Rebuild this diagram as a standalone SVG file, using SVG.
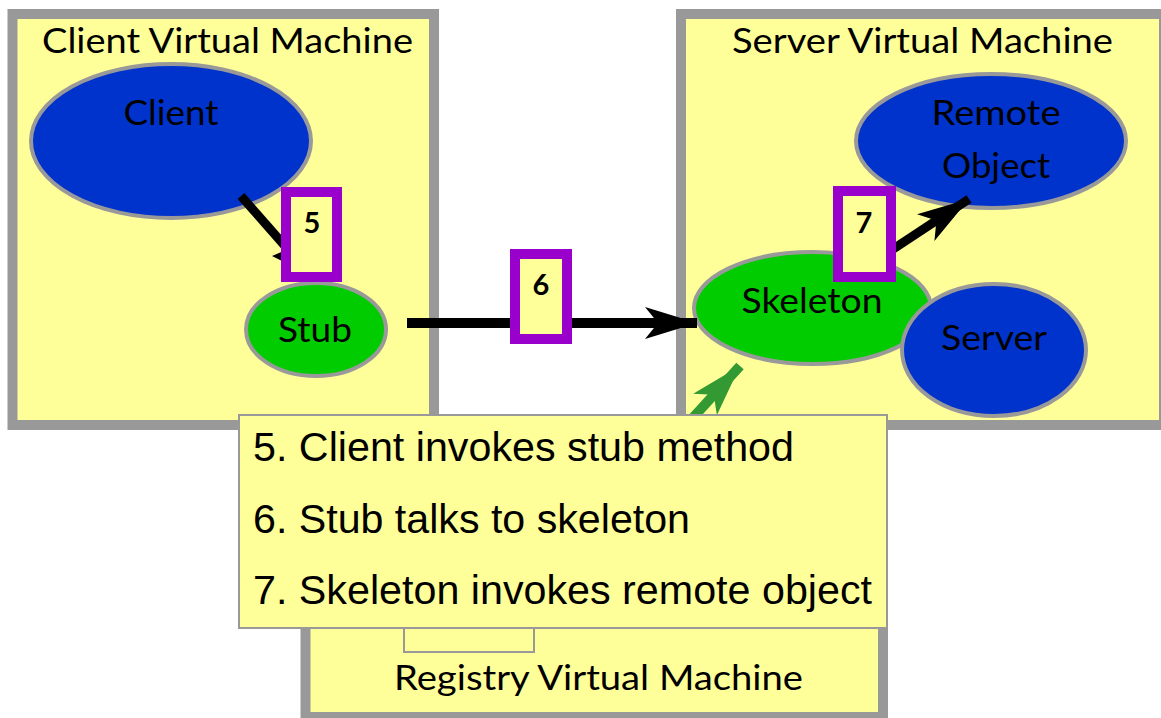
<svg xmlns="http://www.w3.org/2000/svg" width="1161" height="718" viewBox="0 0 1161 718">
<style>
.vm{fill:#FFFF99;stroke:#999999;stroke-width:10}
.title{font-family:Lato,"Open Sans",sans-serif;font-size:35px;fill:#000}
.lbl{font-family:Lato,"Open Sans",sans-serif;font-size:35px;fill:#000;text-anchor:middle}
.blue{fill:#0033CC;stroke:#999999;stroke-width:4}
.green{fill:#00CC00;stroke:#999999;stroke-width:4}
.step{fill:#FFFF99;stroke:#9900CC;stroke-width:10}
.num{font-family:Lato,"Open Sans",sans-serif;font-size:29px;font-weight:bold;fill:#000;text-anchor:middle}
.cap{font-family:"Liberation Sans",Arial,sans-serif;font-size:41px;fill:#000}
.conn{stroke:#000;stroke-width:10;fill:none}
</style>
<defs>
<marker id="ah" markerUnits="userSpaceOnUse" viewBox="0 0 52 32" markerWidth="52" markerHeight="32" refX="52" refY="16" orient="auto">
<path d="M0,0 L52,16 L0,32 L13,16 Z" fill="#000"/>
</marker>
<marker id="ahg" markerUnits="userSpaceOnUse" viewBox="0 0 52 32" markerWidth="52" markerHeight="32" refX="52" refY="16" orient="auto">
<path d="M0,0 L52,16 L0,32 L13,16 Z" fill="#339933"/>
</marker>
</defs>

<g id="client-vm">
<rect class="vm" x="12.5" y="14" width="421.5" height="411"/>
<text class="title" x="42" y="53" textLength="371" lengthAdjust="spacingAndGlyphs">Client Virtual Machine</text>
</g>

<g id="server-vm">
<rect class="vm" x="681" y="14" width="483" height="411"/>
<text class="title" x="732" y="53" textLength="381" lengthAdjust="spacingAndGlyphs">Server Virtual Machine</text>
</g>

<g id="registry-vm">
<rect class="vm" x="305.5" y="600" width="577.5" height="117"/>
<rect x="404" y="600" width="130" height="52" fill="#FFFF99" stroke="#999999" stroke-width="2"/>
<text class="title" x="394" y="690" textLength="409" lengthAdjust="spacingAndGlyphs">Registry Virtual Machine</text>
</g>

<g id="client">
<ellipse class="blue" cx="171" cy="141" rx="140" ry="77"/>
<text class="lbl" x="171" y="125" textLength="95" lengthAdjust="spacingAndGlyphs">Client</text>
</g>

<g id="stub">
<ellipse class="green" cx="316" cy="329.5" rx="70" ry="46.5"/>
<text class="lbl" x="315" y="342" textLength="74" lengthAdjust="spacingAndGlyphs">Stub</text>
</g>

<g id="remote-object">
<ellipse class="blue" cx="991" cy="141" rx="135" ry="67"/>
<text class="lbl" x="996" y="125" textLength="129" lengthAdjust="spacingAndGlyphs">Remote</text>
<text class="lbl" x="996" y="178" textLength="108" lengthAdjust="spacingAndGlyphs">Object</text>
</g>

<g id="skeleton">
<ellipse class="green" cx="812.5" cy="308" rx="118.5" ry="56"/>
<text class="lbl" x="812" y="313" textLength="141" lengthAdjust="spacingAndGlyphs">Skeleton</text>
</g>

<g id="server">
<ellipse class="blue" cx="994" cy="350" rx="92" ry="66"/>
<text class="lbl" x="994" y="350" textLength="106" lengthAdjust="spacingAndGlyphs">Server</text>
</g>

<g id="connectors">
<line x1="241" y1="196" x2="292" y2="254" stroke="#000" stroke-width="9"/>
<polygon points="272,256 286,250 286,263" fill="#000"/>
<line class="conn" x1="407" y1="323" x2="697" y2="323" marker-end="url(#ah)"/>
<line x1="872" y1="263" x2="969" y2="199" stroke="#000" stroke-width="9" marker-end="url(#ah)"/>
<line x1="680" y1="432" x2="740" y2="366" stroke="#339933" stroke-width="10" marker-end="url(#ahg)"/>
</g>

<g id="step5">
<rect class="step" x="286" y="192" width="51" height="85"/>
<text class="num" x="312" y="233">5</text>
</g>

<g id="step6">
<rect class="step" x="515" y="254" width="52" height="85"/>
<text class="num" x="541" y="295">6</text>
</g>

<g id="step7">
<rect class="step" x="838" y="191" width="53" height="86"/>
<text class="num" x="864" y="233">7</text>
</g>

<g id="caption">
<rect x="239" y="415" width="648" height="213" fill="#FFFF99" stroke="#999999" stroke-width="2"/>
<text class="cap" x="253" y="461" textLength="541" lengthAdjust="spacingAndGlyphs">5. Client invokes stub method</text>
<text class="cap" x="253" y="533" textLength="437" lengthAdjust="spacingAndGlyphs">6. Stub talks to skeleton</text>
<text class="cap" x="253" y="604" textLength="619" lengthAdjust="spacingAndGlyphs">7. Skeleton invokes remote object</text>
</g>
</svg>
